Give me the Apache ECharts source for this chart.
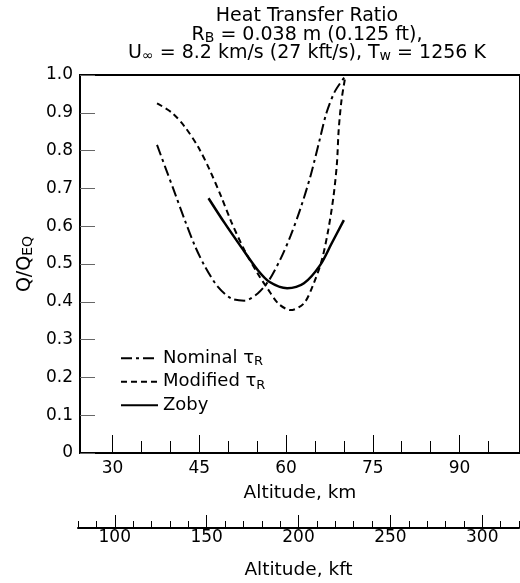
<!DOCTYPE html>
<html><head><meta charset="utf-8">
<script src="https://cdn.jsdelivr.net/npm/echarts@6/dist/echarts.min.js"></script>
<style>html,body{margin:0;padding:0;background:#fff}#c{width:520px;height:583px}</style>
</head><body><div id="c"></div>
<script>
// Altitude (km) vs Q/Q_EQ
const nominalAlt = [37.7, 39.1, 40.8, 42.5, 44.3, 46.0, 48.2, 50.5, 52.8, 55.1, 57.1, 59.1, 60.8, 62.5, 64.2, 65.6, 67.0, 68.5, 70.4];
const nominalQ   = [0.815, 0.757, 0.687, 0.616, 0.546, 0.493, 0.44, 0.409, 0.403, 0.422, 0.458, 0.515, 0.575, 0.647, 0.731, 0.815, 0.9, 0.958, 1.0];
const modifiedAlt = [37.7, 40.3, 42.5, 44.8, 46.8, 48.8, 50.5, 52.8, 55.1, 56.8, 58.7, 60.8, 63.1, 64.8, 66.2, 67.3, 68.2, 68.8, 69.1, 69.6, 70.3];
const modifiedQ   = [0.925, 0.9, 0.863, 0.81, 0.749, 0.678, 0.613, 0.537, 0.475, 0.435, 0.395, 0.378, 0.396, 0.449, 0.511, 0.59, 0.678, 0.766, 0.854, 0.934, 1.0];
const zobyAlt = [46.6, 49.4, 52.2, 55.1, 57.1, 60.2, 63.1, 65.9, 67.9, 70.0];
const zobyQ   = [0.674, 0.608, 0.546, 0.484, 0.453, 0.436, 0.449, 0.497, 0.555, 0.616];
const kmMajorTicks = [30, 45, 60, 75, 90];
const kmMinorTicks = [35, 40, 50, 55, 65, 70, 80, 85, 95];
const kftMajorTicks = [100, 150, 200, 250, 300];
const seriesNames = ['Nominal {s|τ}{sub|R}', 'Modified {s|τ}{sub|R}', 'Zoby'];

const pairs = (xs, ys) => xs.map((x, i) => [x, ys[i]]);
const FONT = 'DejaVu Sans, sans-serif';
const kmMin = 24.384, kmMax = 100.45;

const chart = echarts.init(document.getElementById('c'));
const tickText = {fontFamily: FONT, fontSize: 17, color: '#000', fontWeight: 'normal'};
const nameText = {fontFamily: FONT, fontSize: 18.5, color: '#000', fontWeight: 'normal'};
const sub = {fontFamily: FONT, fontSize: 13, color: '#000', fontWeight: 'normal', padding: [7, 0, 0, 0]};

chart.setOption({
  animation: false,
  backgroundColor: '#fff',
  title: {
    text: '{t|Heat Transfer Ratio}\n{t|R}{s|B}{t| = 0.038 m (0.125 ft),}\n{t|U}{s|∞}{t| = 8.2 km/s (27 kft/s), T}{s|w}{t| = 1256 K}',
    left: 302, top: 2, textAlign: 'center',
    textStyle: {fontWeight: 'normal', rich: {t: Object.assign({}, nameText, {fontSize: 19, lineHeight: 18.5}), s: Object.assign({}, sub, {fontSize: 14, lineHeight: 18.5})}}
  },
  legend: {
    orient: 'vertical', left: 115, top: 343, itemWidth: 37, itemHeight: 14, itemGap: 3,
    data: seriesNames,
    itemStyle: {opacity: 0},
    textStyle: Object.assign({lineHeight: 20.5, rich: {s: Object.assign({}, nameText, {fontSize: 18}), sub: sub}}, nameText, {fontSize: 18})
  },
  grid: [
    {left: 80, top: 75, right: -5, bottom: 130, show: true, borderColor: '#000', borderWidth: 2, backgroundColor: 'transparent'},
    {left: 78, right: 1, top: 527, height: 1}
  ],
  xAxis: [
    {type: 'value', gridIndex: 0, min: kmMin, max: kmMax, position: 'bottom',
     name: 'Altitude, km', nameLocation: 'middle', nameGap: 31, nameTextStyle: Object.assign({}, nameText),
     axisLine: {show: true, lineStyle: {color: '#000', width: 2}},
     axisTick: {show: true, inside: true, length: 18, customValues: kmMajorTicks, lineStyle: {color: '#000', width: 1}},
     axisLabel: Object.assign({margin: 7, customValues: kmMajorTicks}, tickText),
     splitLine: {show: false}},
    {type: 'value', gridIndex: 0, min: kmMin, max: kmMax, position: 'bottom',
     axisLine: {show: false},
     axisTick: {show: true, inside: true, length: 12, customValues: kmMinorTicks, lineStyle: {color: '#000', width: 1}},
     axisLabel: {show: false}, splitLine: {show: false}},
    {type: 'value', gridIndex: 1, min: 80, max: 320, position: 'bottom',
     name: 'Altitude, kft', nameLocation: 'middle', nameGap: 33, nameTextStyle: Object.assign({}, nameText),
     axisLine: {show: true, lineStyle: {color: '#000', width: 2}},
     axisTick: {show: true, inside: true, length: 13, customValues: kftMajorTicks, lineStyle: {color: '#000', width: 1}},
     axisLabel: Object.assign({margin: 1, customValues: kftMajorTicks}, tickText),
     splitLine: {show: false}},
    {type: 'value', gridIndex: 1, min: 80, max: 320, interval: 10, position: 'bottom',
     axisLine: {show: false},
     axisTick: {show: true, inside: true, length: 7, lineStyle: {color: '#000', width: 1}},
     axisLabel: {show: false}, splitLine: {show: false}}
  ],
  yAxis: [
    {type: 'value', gridIndex: 0, min: 0, max: 1, interval: 0.1,
     name: '{t|Q/Q}{s|EQ}', nameLocation: 'middle', nameGap: 42, nameRotate: 90,
     nameTextStyle: {rich: {t: Object.assign({}, nameText, {fontSize: 19}), s: Object.assign({}, sub, {fontSize: 14})}},
     axisLine: {show: true, lineStyle: {color: '#000', width: 2}},
     axisTick: {show: true, inside: true, length: 15, lineStyle: {color: '#666', width: 1}},
     axisLabel: Object.assign({margin: 7, formatter: v => v === 0 ? '0' : v.toFixed(1)}, tickText),
     splitLine: {show: false}},
    {type: 'value', gridIndex: 1, show: false, min: 0, max: 1}
  ],
  series: [
    {name: seriesNames[0], type: 'line', xAxisIndex: 0, yAxisIndex: 0, data: pairs(nominalAlt, nominalQ),
     smooth: 0.3, symbol: 'none', showSymbol: false, color: '#000',
     lineStyle: {color: '#000', width: 2, type: [11, 4, 3, 4]}},
    {name: seriesNames[1], type: 'line', xAxisIndex: 0, yAxisIndex: 0, data: pairs(modifiedAlt, modifiedQ),
     smooth: 0.3, symbol: 'none', showSymbol: false, color: '#000',
     lineStyle: {color: '#000', width: 2, type: [6, 4]}},
    {name: seriesNames[2], type: 'line', xAxisIndex: 0, yAxisIndex: 0, data: pairs(zobyAlt, zobyQ),
     smooth: 0.3, symbol: 'none', showSymbol: false, color: '#000',
     lineStyle: {color: '#000', width: 2.5, type: 'solid'}}
  ]
});
</script>
</body></html>
